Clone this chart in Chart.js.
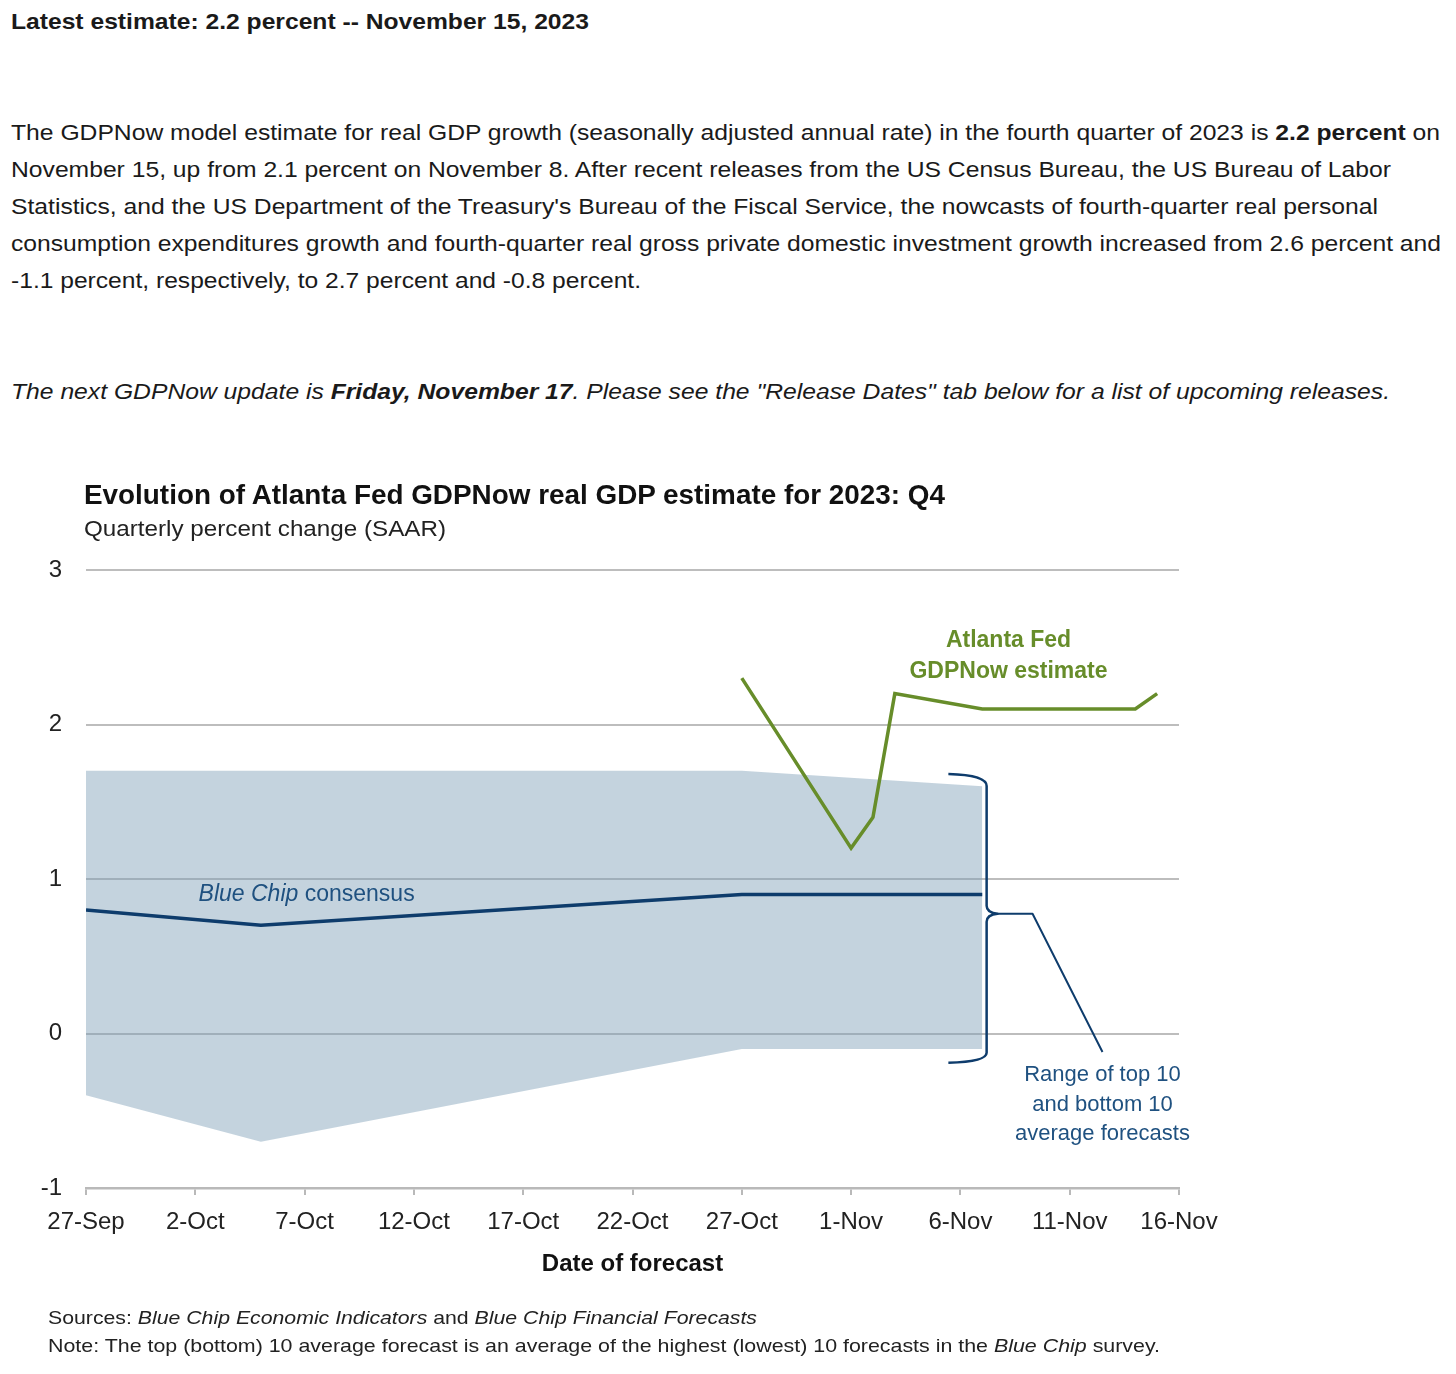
<!DOCTYPE html>
<html>
<head>
<meta charset="utf-8">
<script src="https://cdn.jsdelivr.net/npm/chart.js@4.4.0/dist/chart.umd.min.js"></script>
<style>
  html, body { margin: 0; padding: 0; background: #fff; }
  body { width: 1456px; height: 1374px; position: relative; overflow: hidden; font-family: "Liberation Sans", Arial, sans-serif; color: #111; }
  .t { position: absolute; white-space: nowrap; transform-origin: 0 50%; display: inline-block; }
  .p { font-size: 22px; line-height: 26px; color: #1a1a1a; }
  #chartBox { position: absolute; left: 0; top: 440px; width: 1456px; height: 934px; }
  .ct { color: #111; }
</style>
</head>
<body>
<div class="t p" style="left:11px; top:9px; font-weight:bold;" data-w="578">Latest estimate: 2.2 percent -- November 15, 2023</div>

<div class="t p" style="left:11px; top:120px;" data-w="1429">The GDPNow model estimate for real GDP growth (seasonally adjusted annual rate) in the fourth quarter of 2023 is <b>2.2 percent</b> on</div>
<div class="t p" style="left:11px; top:157px;" data-w="1380">November 15, up from 2.1 percent on November 8. After recent releases from the US Census Bureau, the US Bureau of Labor</div>
<div class="t p" style="left:11px; top:194px;" data-w="1367">Statistics, and the US Department of the Treasury's Bureau of the Fiscal Service, the nowcasts of fourth-quarter real personal</div>
<div class="t p" style="left:11px; top:231px;" data-w="1430">consumption expenditures growth and fourth-quarter real gross private domestic investment growth increased from 2.6 percent and</div>
<div class="t p" style="left:11px; top:268px;" data-w="630">-1.1 percent, respectively, to 2.7 percent and -0.8 percent.</div>

<div class="t p" style="left:11px; top:379px; font-style:italic;" data-w="1379">The next GDPNow update is <b>Friday, November 17</b>. Please see the "Release Dates" tab below for a list of upcoming releases.</div>

<div id="chartBox"><canvas id="c" width="1456" height="934"></canvas></div>

<div class="t ct" style="left:84px; top:479px; font-size:27px; line-height:32px; font-weight:900; color:#111;" data-w="861">Evolution of Atlanta Fed GDPNow real GDP estimate for 2023: Q4</div>
<div class="t ct" style="left:84px; top:516px; font-size:22px; line-height:26px; color:#222;" data-w="362">Quarterly percent change (SAAR)</div>

<div class="t ct" style="left:48px; top:1306px; font-size:19px; line-height:24px; color:#222;" data-w="709">Sources: <i>Blue Chip Economic Indicators</i> and <i>Blue Chip Financial Forecasts</i></div>
<div class="t ct" style="left:48px; top:1334px; font-size:19px; line-height:24px; color:#222;" data-w="1112">Note: The top (bottom) 10 average forecast is an average of the highest (lowest) 10 forecasts in the <i>Blue Chip</i> survey.</div>

<script>
// ---------------- DATA ----------------
const startDate = '2023-09-27';
const tickLabels = ['27-Sep', '2-Oct', '7-Oct', '12-Oct', '17-Oct', '22-Oct', '27-Oct', '1-Nov', '6-Nov', '11-Nov', '16-Nov'];

// Blue Chip survey dates and values
const bcDates = ['2023-09-27', '2023-10-05', '2023-10-27', '2023-11-07'];
const bcConsensus = [0.8, 0.7, 0.9, 0.9];
const bcTop10 = [1.7, 1.7, 1.7, 1.6];
const bcBottom10 = [-0.4, -0.7, -0.1, -0.1];

// Atlanta Fed GDPNow estimates
const gdpDates = ['2023-10-27', '2023-11-01', '2023-11-02', '2023-11-03', '2023-11-07', '2023-11-08', '2023-11-14', '2023-11-15'];
const gdpNow = [2.3, 1.2, 1.4, 2.2, 2.1, 2.1, 2.1, 2.2];

// ---------------- HELPERS ----------------
function dayOf(s) {
  const p = s.split('-').map(Number), q = startDate.split('-').map(Number);
  return (Date.UTC(p[0], p[1] - 1, p[2]) - Date.UTC(q[0], q[1] - 1, q[2])) / 86400000;
}
function pts(dates, vals) { return dates.map((d, i) => ({ x: dayOf(d), y: vals[i] })); }

// fit html text widths
document.querySelectorAll('[data-w]').forEach(el => {
  const w = el.getBoundingClientRect().width;
  const target = parseFloat(el.dataset.w);
  el.style.transform = 'scaleX(' + (target / w) + ')';
});

const FONT = '"Liberation Sans", Arial, sans-serif';
const GREEN = '#678d2a';
const NAVY = '#0e3c6c';
const NAVY_TXT = '#1f5180';
const AXIS_GRAY = '#b9b9b9';

const annotations = {
  id: 'annotations',
  afterDatasetsDraw(chart) {
    const ctx = chart.ctx;
    const xs = chart.scales.x, ys = chart.scales.y;
    ctx.save();
    // GDPNow label
    ctx.fillStyle = GREEN;
    ctx.textAlign = 'center';
    ctx.textBaseline = 'middle';
    ctx.font = 'bold 23px ' + FONT;
    const gx = xs.getPixelForValue(42.2);
    ctx.fillText('Atlanta Fed', gx, ys.getPixelForValue(2.54), 134);
    ctx.fillText('GDPNow estimate', gx, ys.getPixelForValue(2.34), 209);

    // Blue Chip consensus label
    ctx.fillStyle = NAVY_TXT;
    ctx.textAlign = 'left';
    ctx.font = 'italic 23px ' + FONT;
    const bx = xs.getPixelForValue(5.15), by = ys.getPixelForValue(0.90);
    const part1 = 'Blue Chip';
    const w1 = Math.min(ctx.measureText(part1).width, 106);
    ctx.fillText(part1, bx, by, 106);
    ctx.font = '23px ' + FONT;
    const rest = ' consensus';
    const w2 = Math.min(ctx.measureText(rest).width, 232 - w1);
    ctx.fillText(rest, bx + w1, by, 232 - w1);

    // brace
    ctx.strokeStyle = NAVY;
    ctx.lineWidth = 2.5;
    ctx.lineJoin = 'round';
    const x0 = xs.getPixelForValue(39.45), x1 = xs.getPixelForValue(41.2), xt = xs.getPixelForValue(41.7);
    const yTop = ys.getPixelForValue(1.68), yMid = ys.getPixelForValue(0.775), yBot = ys.getPixelForValue(-0.19);
    ctx.beginPath();
    ctx.moveTo(x0, yTop);
    ctx.quadraticCurveTo(x1, yTop + 1, x1, yTop + 12);
    ctx.lineTo(x1, yMid - 8);
    ctx.quadraticCurveTo(x1, yMid - 1, xt, yMid);
    ctx.quadraticCurveTo(x1, yMid + 1, x1, yMid + 8);
    ctx.lineTo(x1, yBot - 10);
    ctx.quadraticCurveTo(x1, yBot - 1, x0, yBot);
    ctx.stroke();
    // leader line
    ctx.lineWidth = 2;
    ctx.beginPath();
    ctx.moveTo(xt, yMid);
    ctx.lineTo(xs.getPixelForValue(43.3), yMid);
    ctx.lineTo(xs.getPixelForValue(46.5), ys.getPixelForValue(-0.12));
    ctx.stroke();

    // Range label
    ctx.fillStyle = NAVY_TXT;
    ctx.textAlign = 'center';
    ctx.font = '22px ' + FONT;
    const rx = xs.getPixelForValue(46.5);
    ctx.fillText('Range of top 10', rx, ys.getPixelForValue(-0.27), 166);
    ctx.fillText('and bottom 10', rx, ys.getPixelForValue(-0.46), 152);
    ctx.fillText('average forecasts', rx, ys.getPixelForValue(-0.65), 184);
    ctx.restore();
  }
};

new Chart(document.getElementById('c'), {
  type: 'line',
  data: {
    datasets: [
      {
        label: 'Atlanta Fed GDPNow estimate',
        data: pts(gdpDates, gdpNow),
        borderColor: GREEN,
        borderWidth: 3.5,
        pointRadius: 0,
        tension: 0,
        fill: false
      },
      {
        label: 'Blue Chip consensus',
        data: pts(bcDates, bcConsensus),
        borderColor: NAVY,
        borderWidth: 3.5,
        pointRadius: 0,
        tension: 0,
        fill: false
      },
      {
        label: 'Top 10 average',
        data: pts(bcDates, bcTop10),
        borderWidth: 0,
        borderColor: 'rgba(0,0,0,0)',
        backgroundColor: 'rgba(125,158,182,0.45)',
        pointRadius: 0,
        tension: 0,
        fill: '+1'
      },
      {
        label: 'Bottom 10 average',
        data: pts(bcDates, bcBottom10),
        borderWidth: 0,
        borderColor: 'rgba(0,0,0,0)',
        pointRadius: 0,
        tension: 0,
        fill: false
      }
    ]
  },
  options: {
    responsive: false,
    animation: false,
    devicePixelRatio: 1,
    layout: { padding: { left: 0, right: 277, top: 130, bottom: 95 } },
    plugins: { legend: { display: false }, tooltip: { enabled: false }, title: { display: false } },
    scales: {
      x: {
        type: 'linear',
        min: 0, max: 50,
        afterFit(scale) { scale.height = 91; },
        afterBuildTicks(scale) {
          scale.ticks = tickLabels.map((l, i) => ({ value: i * 5 }));
        },
        ticks: {
          autoSkip: false, maxRotation: 0, padding: 13,
          color: '#222',
          font: { family: FONT, size: 24 },
          callback: (v, i) => tickLabels[i]
        },
        grid: { drawOnChartArea: false, drawTicks: true, tickLength: 7, color: AXIS_GRAY, lineWidth: 2 },
        border: { display: true, color: AXIS_GRAY, width: 2.5 },
        title: {
          display: true, text: 'Date of forecast', color: '#111',
          font: { family: FONT, size: 24, weight: 'bold' }, padding: { top: 0, bottom: 0 }
        }
      },
      y: {
        min: -1, max: 3,
        afterFit(scale) { scale.width = 86; },
        ticks: {
          stepSize: 1, padding: 24, color: '#222',
          font: { family: FONT, size: 24 }
        },
        grid: {
          drawTicks: false,
          color: ctx => ctx.tick && ctx.tick.value === -1 ? 'rgba(0,0,0,0)' : '#bdbdbd',
          lineWidth: 2
        },
        border: { display: false }
      }
    }
  },
  plugins: [annotations]
});
</script>
</body>
</html>
